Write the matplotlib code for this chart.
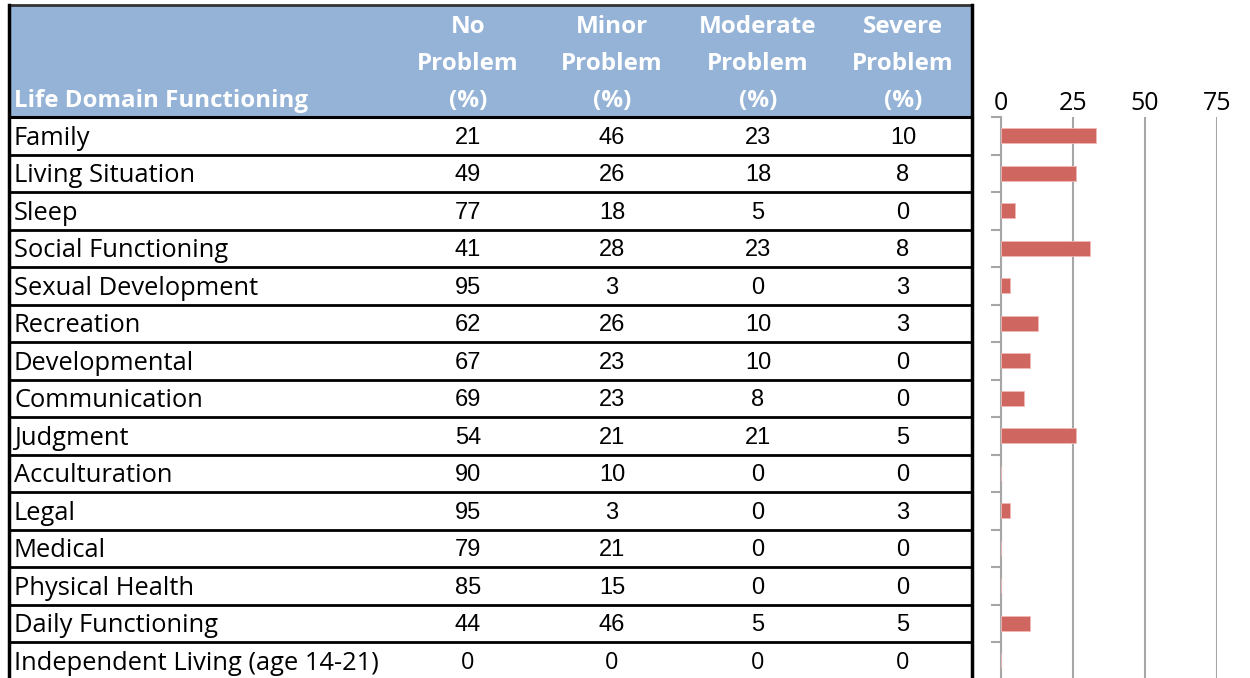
import matplotlib
matplotlib.use("Agg")
import matplotlib.pyplot as plt
import numpy as np

domains = ["Family", "Living Situation", "Sleep", "Social Functioning",
           "Sexual Development", "Recreation", "Developmental", "Communication",
           "Judgment", "Acculturation", "Legal", "Medical", "Physical Health",
           "Daily Functioning", "Independent Living (age 14-21)"]
no_problem = [21, 49, 77, 41, 95, 62, 67, 69, 54, 90, 95, 79, 85, 44, 0]
minor_problem = [46, 26, 18, 28, 3, 26, 23, 23, 21, 10, 3, 21, 15, 46, 0]
moderate_problem = [23, 18, 5, 23, 0, 10, 10, 8, 21, 0, 0, 0, 0, 5, 0]
severe_problem = [10, 8, 0, 8, 3, 3, 0, 0, 5, 0, 3, 0, 0, 5, 0]
# bar lengths (moderate + severe)
bar_values = [33, 26, 5, 31, 3, 13, 10, 8, 26, 0, 3, 0, 0, 10, 0]

col_headers = ["No\nProblem\n(%)", "Minor\nProblem\n(%)",
               "Moderate\nProblem\n(%)", "Severe\nProblem\n(%)"]
first_header = "Life Domain Functioning"
x_ticks = [0, 25, 50, 75]

W, H = 1250, 678
HEADER_BLUE = "#95B3D7"
BAR_RED = "#CF6660"


def main():
    fig = plt.figure(figsize=(12.5, 6.78), dpi=100)

    # table drawn in pixel coordinates
    tab = fig.add_axes([0, 0, 1, 1])
    tab.set_xlim(0, W)
    tab.set_ylim(H, 0)
    tab.axis("off")

    left, right, top = 9, 972, 5
    head_bottom = 117
    row_h = 37.5
    n = len(domains)

    tab.add_patch(plt.Rectangle((left, top), right - left, head_bottom - top,
                                facecolor=HEADER_BLUE, edgecolor="none"))

    col_x = [468, 612, 758, 903]
    for cx, h in zip(col_x, col_headers):
        for k, line in enumerate(h.split("\n")):
            tab.text(cx, 27 + k * 37, line, ha="center", va="center",
                     fontsize=17.5, fontweight="bold", color="white",
                     family="Open Sans")
    tab.text(14, 101, first_header, ha="left", va="center", fontsize=17.4,
             fontweight="bold", color="white", family="Open Sans")

    cols = [no_problem, minor_problem, moderate_problem, severe_problem]
    for i, name in enumerate(domains):
        yc = head_bottom + (i + 0.5) * row_h
        tab.text(14, yc + 2.5, name, ha="left", va="center", fontsize=18.4,
                 color="black", family="Open Sans")
        last = i == n - 1
        for cx, c in zip(col_x, cols):
            tab.text(cx, yc + 2, str(c[i]), ha="center", va="center",
                     fontsize=17, color="black",
                     family="Open Sans" if last else "Liberation Sans")
        tab.plot([left, right], [head_bottom + (i + 1) * row_h] * 2,
                 color="black", lw=2, solid_capstyle="butt")

    tab.plot([left, right], [head_bottom, head_bottom], color="black", lw=2.2)
    tab.plot([left, right], [top, top], color="#333333", lw=2)
    tab.plot([left, left], [top, H], color="black", lw=2.5)
    tab.plot([right, right], [top, H], color="black", lw=2.5)

    # bar chart on the right
    x0, x75 = 1001, 1217
    y_top = head_bottom
    y_bot = head_bottom + n * row_h
    ax = fig.add_axes([x0 / W, 1 - y_bot / H, (x75 - x0) / W, (y_bot - y_top) / H])
    y = np.arange(n)
    ax.barh(y, bar_values, height=0.4, color=BAR_RED, edgecolor="#F0B8B5",
            linewidth=0.6, zorder=3)
    ax.set_xlim(0, 75)
    ax.set_ylim(n - 0.5, -0.5)
    ax.xaxis.tick_top()
    ax.set_xticks(x_ticks)
    ax.set_xticklabels([str(t) for t in x_ticks], family="Open Sans", fontsize=18)
    ax.tick_params(axis="x", length=0, pad=1)
    ax.set_yticks(np.arange(n + 1) - 0.5)
    ax.set_yticklabels([])
    ax.tick_params(axis="y", length=7, width=1.5, color="#A6A6A6")
    ax.grid(axis="x", color="#A6A6A6", lw=1.5, zorder=0)
    for s in ["top", "right", "bottom"]:
        ax.spines[s].set_visible(False)
    ax.spines["left"].set_color("#A6A6A6")
    ax.spines["left"].set_linewidth(1.5)

    fig.savefig("out.png", dpi=100)


if __name__ == "__main__":
    main()
